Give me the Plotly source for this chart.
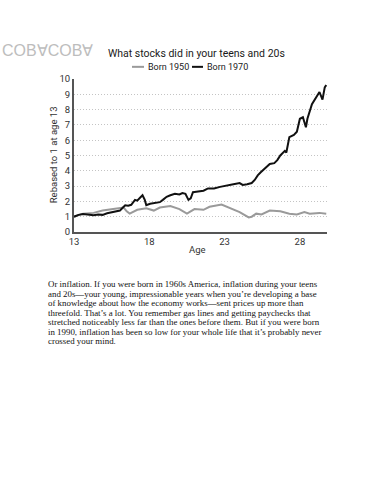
import plotly.graph_objects as go

# ---- data ----
age_1970 = [13.0, 13.3, 13.6, 14.0, 14.3, 14.6, 14.9, 15.2, 15.6, 15.9, 16.05, 16.25,
            16.4, 16.6, 16.8, 17.05, 17.2, 17.4, 17.55, 17.7, 17.8, 18.05, 18.4, 18.7,
            18.9, 19.15, 19.4, 19.7, 20.0, 20.2, 20.4, 20.6, 20.75, 20.9, 21.0, 21.3,
            21.6, 21.9, 22.3, 22.7, 23.1, 23.5, 24.0, 24.2, 24.5, 24.8, 25.0, 25.2,
            25.4, 25.7, 26.0, 26.3, 26.5, 26.7, 27.0, 27.1, 27.3, 27.6, 27.8, 28.0,
            28.2, 28.4, 28.5, 28.8, 29.0, 29.15, 29.3, 29.5, 29.65, 29.75]
born_1970 = [1.0, 1.12, 1.18, 1.15, 1.1, 1.15, 1.12, 1.22, 1.3, 1.35, 1.4, 1.6,
             1.75, 1.72, 1.78, 2.1, 2.05, 2.25, 2.4, 2.1, 1.75, 1.85, 1.9, 1.95,
             2.1, 2.3, 2.4, 2.5, 2.45, 2.55, 2.5, 2.1, 2.2, 2.6, 2.62, 2.65,
             2.7, 2.85, 2.85, 2.95, 3.05, 3.1, 3.2, 3.08, 3.12, 3.2, 3.4, 3.7,
             3.9, 4.2, 4.45, 4.5, 4.7, 5.0, 5.3, 5.2, 6.2, 6.35, 6.55, 7.4,
             7.5, 6.85, 7.4, 8.35, 8.7, 8.9, 9.15, 8.65, 9.45, 9.6]

age_1950 = [13.0, 13.6, 14.3, 14.9, 15.6, 16.3, 16.5, 16.7, 17.2, 17.8, 18.3, 18.7,
            19.4, 20.0, 20.5, 20.7, 21.0, 21.6, 22.0, 22.8, 23.35, 24.0, 24.6, 24.8,
            25.1, 25.45, 26.0, 26.7, 27.3, 27.8, 28.3, 28.65, 29.3, 29.75]
born_1950 = [1.0, 1.2, 1.25, 1.4, 1.5, 1.6, 1.35, 1.2, 1.45, 1.55, 1.4, 1.6,
             1.7, 1.5, 1.2, 1.3, 1.5, 1.45, 1.65, 1.8, 1.55, 1.3, 0.95, 1.0,
             1.2, 1.15, 1.4, 1.35, 1.2, 1.15, 1.3, 1.2, 1.25, 1.2]

x_ticks = [13, 18, 23, 28]
y_ticks = list(range(0, 11))

series_names = ["Born 1950", "Born 1970"]
series_colors = ["#9a9a9a", "#111111"]

title_text = "What stocks did in your teens and 20s"
y_title = "Rebased to 1 at age 13"
x_title = "Age"
watermark = "COB\u2200COB\u2200"

paragraph = [
    "Or inflation. If you were born in 1960s America, inflation during your teens",
    "and 20s\u2014your young, impressionable years when you\u2019re developing a base",
    "of knowledge about how the economy works\u2014sent prices up more than",
    "threefold. That\u2019s a lot. You remember gas lines and getting paychecks that",
    "stretched noticeably less far than the ones before them. But if you were born",
    "in 1990, inflation has been so low for your whole life that it\u2019s probably never",
    "crossed your mind.",
]

# ---- layout geometry (pixels) ----
W, H = 370, 480
L, R, T, B = 74, 327, 78.5, 232


def px(x):
    return (x - L) / (R - L)


def py(y):
    return (B - y) / (B - T)


sans = "Roboto, 'DejaVu Sans', sans-serif"

fig = go.Figure()
fig.add_trace(go.Scatter(x=age_1950, y=born_1950, mode="lines", name=series_names[0],
                         line=dict(color=series_colors[0], width=2), showlegend=False))
fig.add_trace(go.Scatter(x=age_1970, y=born_1970, mode="lines", name=series_names[1],
                         line=dict(color=series_colors[1], width=2), showlegend=False))

annotations = []
shapes = []

# title
annotations.append(dict(text=title_text, x=px(196), y=py(52.5), xref="paper", yref="paper",
                        showarrow=False, xanchor="center", yanchor="middle",
                        font=dict(family=sans, size=10.5, color="#1a1a1a")))
# watermark
annotations.append(dict(text=watermark, x=px(0), y=py(50), xref="paper", yref="paper",
                        showarrow=False, xanchor="left", yanchor="middle",
                        font=dict(family="'Liberation Sans', Arial, sans-serif", size=16,
                                  color="#bdbdbd")))
# legend (custom, compact)
leg_items = [(132, 144, 146), (192, 203, 205)]
for (x0, x1, xt), name, col in zip(leg_items, series_names, series_colors):
    shapes.append(dict(type="line", xref="paper", yref="paper", x0=px(x0), x1=px(x1),
                       y0=py(66.3), y1=py(66.3), line=dict(color=col, width=2)))
    annotations.append(dict(text=name, x=px(xt), y=py(66.5), xref="paper", yref="paper",
                            showarrow=False, xanchor="left", yanchor="middle",
                            font=dict(family=sans, size=9, color="#1a1a1a")))
# axis titles
annotations.append(dict(text=y_title, x=px(53), y=py(155), xref="paper", yref="paper",
                        showarrow=False, xanchor="center", yanchor="middle", textangle=-90,
                        font=dict(family=sans, size=9.5, color="#333333")))
annotations.append(dict(text=x_title, x=px(197), y=py(250), xref="paper", yref="paper",
                        showarrow=False, xanchor="center", yanchor="middle",
                        font=dict(family=sans, size=9.5, color="#333333")))
# paragraph
for i, line in enumerate(paragraph):
    annotations.append(dict(text=line, x=px(46), y=py(284.5 + 9.5 * i), xref="paper", yref="paper",
                            showarrow=False, xanchor="left", yanchor="middle",
                            font=dict(family="'Liberation Serif', 'Times New Roman', serif",
                                      size=8.9, color="#111111")))

fig.update_layout(
    width=W, height=H,
    margin=dict(l=L, r=W - R, t=T, b=H - B, pad=0),
    paper_bgcolor="white", plot_bgcolor="white",
    annotations=annotations, shapes=shapes,
    showlegend=False,
)
fig.update_xaxes(range=[13, 29.8], tickvals=x_ticks, showgrid=False, zeroline=False,
                 showline=True, linecolor="#555555", linewidth=2, ticks="",
                 tickfont=dict(family=sans, size=9.5, color="#333333"))
fig.update_yaxes(range=[0, 10], tickvals=y_ticks, showgrid=True, gridcolor="#c4c4c4",
                 griddash="1px,2px", gridwidth=1, zeroline=False,
                 showline=True, linecolor="#555555", linewidth=2, ticks="",
                 tickfont=dict(family=sans, size=9.5, color="#333333"))

fig.write_html("out.html", config={"displayModeBar": False},
               post_script="document.body.style.margin='0';")
